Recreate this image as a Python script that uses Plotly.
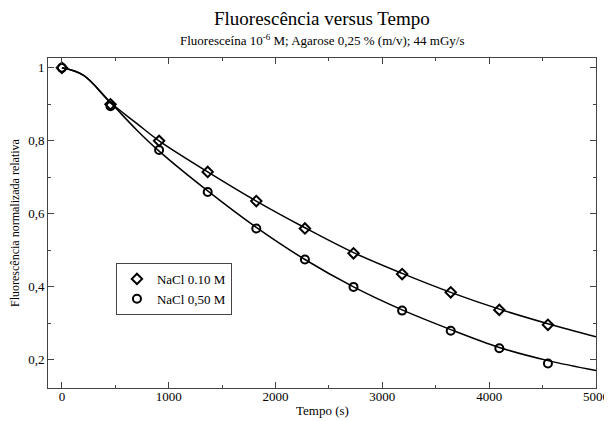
import plotly.graph_objects as go

# Measured data points
tempo = [0, 455, 910, 1365, 1820, 2275, 2730, 3185, 3640, 4095, 4550]
nacl_010 = [1.0, 0.90, 0.80, 0.715, 0.635, 0.56, 0.492, 0.435, 0.385, 0.337, 0.296]
nacl_050 = [1.0, 0.895, 0.775, 0.66, 0.56, 0.475, 0.40, 0.335, 0.28, 0.232, 0.19]

# Fitted curves
curve_t = [0, 200, 455, 700, 910, 1365, 1820, 2275, 2730, 3185, 3640, 4095, 4550, 5000]
curve_010 = [1.0, 0.98, 0.905, 0.848, 0.80, 0.715, 0.635, 0.562, 0.494, 0.437, 0.385, 0.339, 0.299, 0.263]
curve_050 = [1.0, 0.98, 0.905, 0.83, 0.772, 0.663, 0.563, 0.475, 0.40, 0.337, 0.283, 0.234, 0.198, 0.171]

x_ticks = [0, 1000, 2000, 3000, 4000, 5000]
x_ticktext = ["0", "1000", "2000", "3000", "4000", "5000"]
y_ticks = [0.2, 0.4, 0.6, 0.8, 1.0]
y_ticktext = ["0,2", "0,4", "0,6", "0,8", "1"]

serif = "Liberation Serif"

fig = go.Figure()
fig.add_trace(go.Scatter(x=curve_t, y=curve_010, mode="lines", line=dict(color="black", width=1.5, shape="spline"),
                         showlegend=False, hoverinfo="skip"))
fig.add_trace(go.Scatter(x=curve_t, y=curve_050, mode="lines", line=dict(color="black", width=1.5, shape="spline"),
                         showlegend=False, hoverinfo="skip"))
fig.add_trace(go.Scatter(x=tempo, y=nacl_010, mode="markers", name="NaCl 0.10 M",
                         marker=dict(symbol="diamond-open", size=8, color="black", line=dict(width=2, color="black"))))
fig.add_trace(go.Scatter(x=tempo, y=nacl_050, mode="markers", name="NaCl 0,50 M",
                         marker=dict(symbol="circle-open", size=8, color="black", line=dict(width=2, color="black"))))

axis_common = dict(showgrid=False, zeroline=False, showline=True, linecolor="#444", linewidth=1,
                   mirror="ticks", ticks="inside", ticklen=6, tickcolor="#444", automargin=False,
                   tickfont=dict(family=serif, size=13, color="black"))

fig.update_xaxes(range=[-130, 5000], tickvals=x_ticks, ticktext=x_ticktext, ticklabelstandoff=-4,
                 minor=dict(dtick=500, ticks="inside", ticklen=3, tickcolor="#444"),
                 **axis_common)
fig.update_yaxes(range=[0.123, 1.027], tickvals=y_ticks, ticktext=y_ticktext,
                 minor=dict(tickvals=[0.3, 0.5, 0.7, 0.9], ticks="inside", ticklen=3, tickcolor="#444"),
                 **axis_common)

fig.add_annotation(text="Tempo (s)", xref="paper", yref="paper", x=0.5, y=0, yshift=-22,
                   xanchor="center", yanchor="middle", showarrow=False,
                   font=dict(family=serif, size=13, color="black"))
fig.add_annotation(text="Fluorescência normalizada relativa", xref="paper", yref="paper", x=0, y=0.5,
                   xshift=-33, textangle=-90, xanchor="center", yanchor="middle", showarrow=False,
                   font=dict(family=serif, size=12, color="black"))
fig.add_annotation(text="Fluorescência versus Tempo", xref="paper", yref="paper", x=0.5, y=1.0, yshift=40,
                   xanchor="center", yanchor="middle", showarrow=False, font=dict(family=serif, size=19, color="black"))
fig.add_annotation(text="Fluoresceína 10<sup>-6</sup> M; Agarose 0,25 % (m/v); 44 mGy/s", xref="paper", yref="paper",
                   x=0.5, y=1.0, yshift=18, xanchor="center", yanchor="middle", showarrow=False,
                   font=dict(family=serif, size=13, color="black"))

# The page body adds an 8px offset, so the figure is 8px smaller and margins shifted
fig.update_layout(width=604, height=413, margin=dict(l=40, r=16, t=50, b=33),
                  paper_bgcolor="white", plot_bgcolor="white",
                  legend=dict(x=0.124, y=0.379, xanchor="left", yanchor="top", bordercolor="#444", borderwidth=1,
                              bgcolor="white", font=dict(family=serif, size=13, color="black"),
                              tracegroupgap=0, itemwidth=30))

fig.write_html("out.html")
